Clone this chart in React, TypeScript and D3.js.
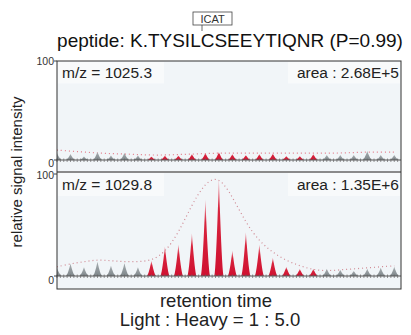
import React, { useEffect, useRef } from "react";
import * as d3 from "d3";

// scan index along retention time (0 is clipped at the left edge)
const scans = [0, 1, 2, 3, 4, 5, 6, 7, 8, 9, 10, 11, 12, 13, 14, 15, 16, 17, 18, 19, 20, 21, 22, 23, 24, 25];
// light (m/z 1025.3) peak heights, % of max
const lightPeaks = [7, 6, 3.5, 8, 4.5, 7, 4.5, 3.5, 4.5, 4.5, 6, 7, 8, 6, 5, 6, 6.5, 4, 4, 6, 5, 5, 5, 9, 5, 5];
// heavy (m/z 1029.8) peak heights, % of max
const heavyPeaks = [8, 12, 8.5, 14, 10, 12.5, 8.5, 15, 29, 31, 42, 75, 95, 25, 43, 31, 18, 9, 7, 7, 7, 6, 5, 7, 8, 9];
// smoothed elution profiles (dotted)
const lightEnvelope = [10, 9, 8, 7, 6.5, 6, 5.5, 5, 5, 5.5, 6, 6.5, 7, 7, 7, 7, 7, 7, 7, 7, 7, 7, 7.5, 8, 8, 8];
const heavyEnvelope = [9, 12, 14, 16, 15, 14, 14, 15, 23, 42, 70, 92, 98, 78, 52, 34, 23, 15, 10, 6, 5, 6, 7, 8, 9, 10];
// integrated window (red peaks)
const windowRange = [7, 19];
const yTicks = [0, 100];

const panels = [
  { mz: "m/z = 1025.3", area: "area : 2.68E+5", peaks: lightPeaks, envelope: lightEnvelope },
  { mz: "m/z = 1029.8", area: "area : 1.35E+6", peaks: heavyPeaks, envelope: heavyEnvelope },
];

const App = () => {
  const ref = useRef<SVGSVGElement>(null);

  useEffect(() => {
    draw();
  });

  const draw = () => {
    const svg = d3.select(ref.current);
    svg.selectAll("*").remove();
    const font = "'Liberation Sans', Arial, sans-serif";

    const left = 57;
    const right = 401;
    const boxes = [
      { y0: 61, y1: 172, base: 160, top: 61, mzY: 77.5, zeroDy: 3, topDy: 0 },
      { y0: 172, y1: 289, base: 276, top: 174, mzY: 190, zeroDy: 4, topDy: 1 },
    ];

    const x = d3.scaleLinear().domain([0, 25.5]).range([left, right]);

    const defs = svg.append("defs");
    let redGrad = defs
      .append("linearGradient")
      .attr("id", "redPeak")
      .attr("x1", "0%")
      .attr("x2", "0%")
      .attr("y1", "0%")
      .attr("y2", "100%");
    redGrad.append("stop").attr("offset", "0%").style("stop-color", "#eea2ad");
    redGrad.append("stop").attr("offset", "30%").style("stop-color", "#d8243d");
    redGrad.append("stop").attr("offset", "100%").style("stop-color", "#cf1030");

    let grayGrad = defs
      .append("linearGradient")
      .attr("id", "grayPeak")
      .attr("x1", "0%")
      .attr("x2", "0%")
      .attr("y1", "0%")
      .attr("y2", "100%");
    grayGrad.append("stop").attr("offset", "0%").style("stop-color", "#a7adb0");
    grayGrad.append("stop").attr("offset", "100%").style("stop-color", "#7f878b");

    panels.forEach((p, k) => {
      const b = boxes[k];
      const y = d3.scaleLinear().domain([0, 100]).range([b.base, b.top]);
      const g = svg.append("g");

      defs
        .append("clipPath")
        .attr("id", "clip" + k)
        .append("rect")
        .attr("x", left)
        .attr("y", b.y0)
        .attr("width", right - left)
        .attr("height", b.y1 - b.y0);

      g.append("rect")
        .attr("x", left)
        .attr("y", b.y0)
        .attr("width", right - left)
        .attr("height", b.y1 - b.y0)
        .attr("fill", "#f1f5f8");

      // label backgrounds (subtle)
      g.append("rect")
        .attr("x", left + 1)
        .attr("y", b.y0 + 1)
        .attr("width", 106)
        .attr("height", b.mzY - b.y0 + 5)
        .attr("fill", "#f8fafb");
      g.append("rect")
        .attr("x", right - 113)
        .attr("y", b.y0 + 1)
        .attr("width", 112)
        .attr("height", b.mzY - b.y0 + 5)
        .attr("fill", "#f8fafb");

      g.append("text")
        .attr("x", 62)
        .attr("y", b.mzY)
        .attr("font-family", font)
        .attr("font-size", 15.5)
        .attr("fill", "#222")
        .text(p.mz);
      g.append("text")
        .attr("x", 399)
        .attr("y", b.mzY)
        .attr("text-anchor", "end")
        .attr("font-family", font)
        .attr("font-size", 15.5)
        .attr("fill", "#222")
        .text(p.area);

      const inner = g.append("g").attr("clip-path", `url(#clip${k})`);

      // dotted elution profile
      inner
        .append("path")
        .datum(p.envelope)
        .attr("fill", "none")
        .attr("stroke", k === 0 ? "#e27b89" : "#d08a94")
        .attr("stroke-width", 1.2)
        .attr("stroke-dasharray", "1 3")
        .attr(
          "d",
          d3
            .line<number>()
            .x((d, i) => x(scans[i]))
            .y((d) => y(d))
            .curve(d3.curveBasis)
        );

      // peaks
      const hw = 4.6;
      const us = d3.range(-1, 1.0001, 0.1);
      scans.forEach((s, i) => {
        const h = p.peaks[i];
        const red = s >= windowRange[0] && s <= windowRange[1];
        const shape = d3
          .line<number>()
          .x((u) => x(s) + u * hw)
          .y((u) => y(h * Math.pow(1 - Math.abs(u), 1.5)));
        inner
          .append("path")
          .attr("d", shape(us))
          .attr("fill", red ? "url(#redPeak)" : "url(#grayPeak)");
      });

      // baseline with minor ticks
      g.append("line")
        .attr("x1", left)
        .attr("x2", right)
        .attr("y1", b.base)
        .attr("y2", b.base)
        .attr("stroke", "#555")
        .attr("stroke-width", 1);
      d3.range(0, 25.5, 0.25).forEach((t) => {
        g.append("line")
          .attr("x1", x(t))
          .attr("x2", x(t))
          .attr("y1", b.base - 1.5)
          .attr("y2", b.base + 2)
          .attr("stroke", "#666")
          .attr("stroke-width", 0.7);
      });

      // y ticks
      yTicks.forEach((v) => {
        g.append("line")
          .attr("x1", left - 3)
          .attr("x2", left)
          .attr("y1", y(v))
          .attr("y2", y(v))
          .attr("stroke", "#444");
        g.append("text")
          .attr("x", left - 3)
          .attr("y", y(v) + (v === 0 ? b.zeroDy : b.topDy))
          .attr("dy", "0.35em")
          .attr("text-anchor", "end")
          .attr("font-family", font)
          .attr("font-size", 10.5)
          .attr("fill", "#333")
          .text(v);
      });
    });

    // frame
    svg
      .append("line")
      .attr("x1", left)
      .attr("x2", right)
      .attr("y1", 172)
      .attr("y2", 172)
      .attr("stroke", "#8a8a8a")
      .attr("stroke-width", 2);
    svg
      .append("rect")
      .attr("x", left)
      .attr("y", 61)
      .attr("width", right - left)
      .attr("height", 289 - 61)
      .attr("fill", "none")
      .attr("stroke", "#333")
      .attr("stroke-width", 1);

    // title with ICAT tag
    svg
      .append("text")
      .attr("x", 230)
      .attr("y", 47)
      .attr("text-anchor", "middle")
      .attr("font-family", font)
      .attr("font-size", 19)
      .attr("fill", "#111")
      .text("peptide: K.TYSILCSEEYTIQNR (P=0.99)");
    svg
      .append("rect")
      .attr("x", 193)
      .attr("y", 12)
      .attr("width", 39)
      .attr("height", 13)
      .attr("fill", "#fff")
      .attr("stroke", "#444")
      .attr("stroke-width", 0.8);
    svg
      .append("text")
      .attr("x", 212.5)
      .attr("y", 22.5)
      .attr("text-anchor", "middle")
      .attr("font-family", font)
      .attr("font-size", 11)
      .attr("fill", "#333")
      .text("ICAT");
    svg
      .append("line")
      .attr("x1", 202)
      .attr("x2", 202)
      .attr("y1", 25)
      .attr("y2", 31)
      .attr("stroke", "#444")
      .attr("stroke-width", 0.8);

    // axis titles
    svg
      .append("text")
      .attr("transform", "translate(22,172) rotate(-90)")
      .attr("text-anchor", "middle")
      .attr("font-family", font)
      .attr("font-size", 15)
      .attr("fill", "#222")
      .text("relative signal intensity");
    svg
      .append("text")
      .attr("x", 216)
      .attr("y", 307)
      .attr("text-anchor", "middle")
      .attr("font-family", font)
      .attr("font-size", 18.5)
      .attr("fill", "#222")
      .text("retention time");
    svg
      .append("text")
      .attr("x", 210)
      .attr("y", 326)
      .attr("text-anchor", "middle")
      .attr("font-family", font)
      .attr("font-size", 18.5)
      .attr("fill", "#222")
      .text("Light : Heavy = 1 : 5.0");
  };

  return (
    <div style={{ position: "fixed", top: 0, left: 0, width: 411, height: 335, background: "#fff" }}>
      <svg ref={ref} width={411} height={335}></svg>
    </div>
  );
};

export default App;
